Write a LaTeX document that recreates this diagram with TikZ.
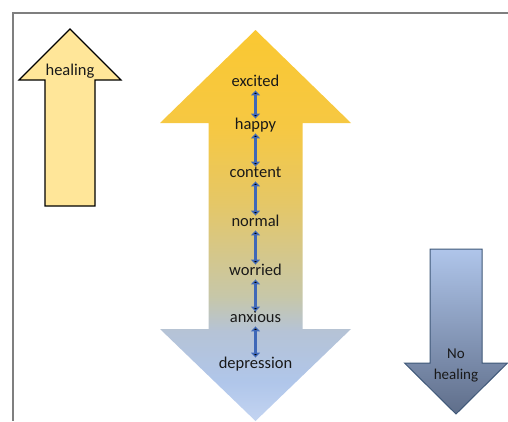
\documentclass[tikz,border=0pt]{standalone}
\usepackage{fontspec}
\setmainfont{Carlito}
\usetikzlibrary{arrows.meta,positioning}
\definecolor{healfill}{HTML}{FFE699}
\definecolor{nohealtop}{HTML}{AFC5EA}
\definecolor{nohealbot}{HTML}{5F6E8A}
\definecolor{nohealline}{HTML}{3F5878}
\definecolor{linkblue}{HTML}{3F68B8}
\definecolor{framegray}{HTML}{7F7F7F}
\definecolor{mood0}{HTML}{C3D4F1}
\definecolor{mood1}{HTML}{B0C6EA}
\definecolor{mood2}{HTML}{B5C3D6}
\definecolor{mood3}{HTML}{C7C7A8}
\definecolor{mood4}{HTML}{E5C766}
\definecolor{mood5}{HTML}{F6C843}
\definecolor{mood6}{HTML}{FAC832}
\pgfdeclareverticalshading{moodshade}{100bp}{
  color(0bp)=(mood0); color(25bp)=(mood0);
  color(30bp)=(mood1); color(36.5bp)=(mood2);
  color(41bp)=(mood3); color(53bp)=(mood4);
  color(62.5bp)=(mood5); color(75bp)=(mood6);
  color(100bp)=(mood6)}
\tikzset{font=\fontsize{16.5}{19}\selectfont}
\tikzset{mood/.style={inner sep=1.5pt,text height=9pt,text depth=2.5pt,text=black!90}}
\tikzset{link/.style={draw=linkblue,line width=3.5pt,{Triangle[length=5pt,width=9pt]}-{Triangle[length=5pt,width=9pt]}}}

\begin{document}
\begin{tikzpicture}[x=1pt,y=-1pt]
\useasboundingbox (0,0) rectangle (508,421);
% frame
\draw[framegray,line width=1.5pt] (508,13) -- (13,13) -- (13,421);
% healing arrow
\draw[fill=healfill,line width=1.1pt,line join=miter]
(70,29) -- (121,80) -- (95,80) -- (95,206) -- (45,206) -- (45,80) -- (19,80) -- cycle;
\node[mood] (heal) at (70,72) {healing};
% big two-way arrow
\path[shading=moodshade]
(255.5,30) -- (351,123) -- (302.5,123) -- (302.5,329) -- (351,329) -- (255.5,421)
-- (160,329) -- (208.5,329) -- (208.5,123) -- (160,123) -- cycle;
\node[mood] (A) at (255.5,83) {excited};
\node[mood] (B) at (255.5,126) {happy};
\node[mood] (C) at (255.5,174) {content};
\node[mood] (D) at (255.5,223) {normal};
\node[mood] (E) at (255.5,272) {worried};
\node[mood] (F) at (255.5,319) {anxious};
\node[mood] (G) at (255.5,365) {depression};
\path[link]
(A) edge (B)
(B) edge (C)
(C) edge (D)
(D) edge (E)
(E) edge (F)
(F) edge (G);
% no healing arrow
\draw[top color=nohealtop,bottom color=nohealbot,draw=nohealline,line width=1pt]
(430,249) -- (482,249) -- (482,363) -- (507.5,363) -- (456,414) -- (404.5,363)
-- (430,363) -- cycle;
\node[align=center,text=black!90,font=\fontsize{15}{21}\selectfont] (noheal) at (456,365) {No\\healing};
\end{tikzpicture}
\end{document}
